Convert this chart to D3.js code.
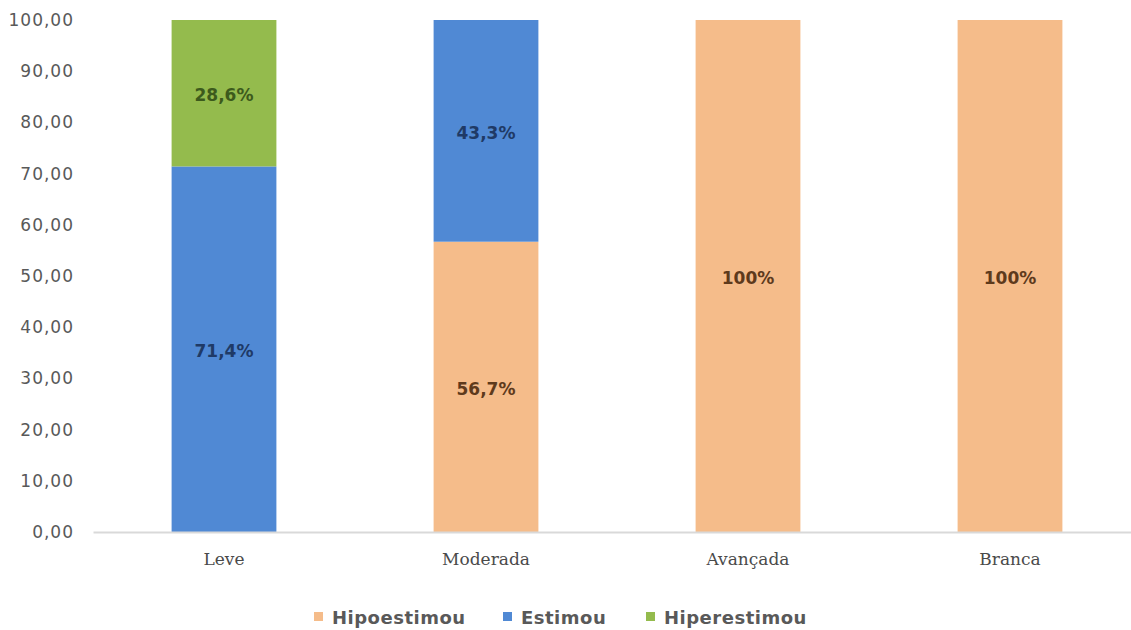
<!DOCTYPE html>
<html>
<head>
<meta charset="utf-8">
<script src="https://cdn.jsdelivr.net/npm/d3@7"></script>
<style>
  html, body { margin: 0; padding: 0; background: #fff; }
  svg { display: block; }
</style>
</head>
<body>
<svg id="chart" width="1131" height="630"></svg>
<script>
// Stage of the condition on the x axis
const categories = ["Leve", "Moderada", "Avançada", "Branca"];

// Share of each estimation outcome (%) per category
const seriesNames = ["Hipoestimou", "Estimou", "Hiperestimou"];
const hipoestimou = [0, 56.7, 100, 100];
const estimou = [71.4, 43.3, 0, 0];
const hiperestimou = [28.6, 0, 0, 0];

// Printed data labels per series
const hipoLabels = ["", "56,7%", "100%", "100%"];
const estimouLabels = ["71,4%", "43,3%", "", ""];
const hiperLabels = ["28,6%", "", "", ""];

const yTicks = [0, 10, 20, 30, 40, 50, 60, 70, 80, 90, 100];

const colors = { Hipoestimou: "#F5BC8A", Estimou: "#5089D4", Hiperestimou: "#94BB4D" };
const labelColors = { Hipoestimou: "#5E3A1C", Estimou: "#1F3A66", Hiperestimou: "#3C5A1C" };

const rows = categories.map((c, i) => ({
  category: c,
  Hipoestimou: hipoestimou[i],
  Estimou: estimou[i],
  Hiperestimou: hiperestimou[i]
}));
const labelsBySeries = { Hipoestimou: hipoLabels, Estimou: estimouLabels, Hiperestimou: hiperLabels };

const svg = d3.select("#chart");
const margin = { left: 93, right: -10, top: 20, bottom: 98 };
const width = 1131 - margin.left - margin.right;
const height = 630 - margin.top - margin.bottom;

const g = svg.append("g").attr("transform", `translate(${margin.left},${margin.top})`);

const x = d3.scaleBand().domain(categories).range([0, width]).paddingInner(0.6).paddingOuter(0.3);
const y = d3.scaleLinear().domain([0, 100]).range([height, 0]);

const stacked = d3.stack().keys(seriesNames)(rows);

// Y axis: labels only, no line or ticks
const yAxis = g.append("g")
  .call(d3.axisLeft(y).tickValues(yTicks).tickSize(0).tickPadding(19)
    .tickFormat(d => d3.format(".2f")(d).replace(".", ",")));
yAxis.select(".domain").remove();
yAxis.selectAll("text")
  .attr("fill", "#595959")
  .style("font-family", "'DejaVu Sans', sans-serif")
  .style("font-size", "17px")
  .style("letter-spacing", "1px");

// Stacked bars
const layers = g.selectAll(".layer").data(stacked).join("g")
  .attr("class", "layer")
  .attr("fill", d => colors[d.key]);

layers.selectAll("rect").data(d => d.map(v => ({ key: d.key, v })))
  .join("rect")
  .attr("x", d => x(d.v.data.category))
  .attr("width", x.bandwidth())
  .attr("y", d => y(d.v[1]))
  .attr("height", d => y(d.v[0]) - y(d.v[1]));

// X axis baseline and category labels
const xAxis = g.append("g").attr("transform", `translate(0,${height})`)
  .call(d3.axisBottom(x).tickSize(0).tickPadding(21));
xAxis.select(".domain").attr("stroke", "#D9D9D9").attr("stroke-width", 2);
xAxis.selectAll("text")
  .attr("fill", "#4A4A4A")
  .style("font-family", "'DejaVu Serif', serif")
  .style("font-size", "17px");

// Data labels centred in each segment
stacked.forEach(layer => {
  layer.forEach((v, i) => {
    const txt = labelsBySeries[layer.key][i];
    if (!txt) return;
    g.append("text")
      .attr("x", x(v.data.category) + x.bandwidth() / 2)
      .attr("y", (y(v[0]) + y(v[1])) / 2 + 2)
      .attr("text-anchor", "middle")
      .attr("dominant-baseline", "central")
      .attr("fill", labelColors[layer.key])
      .style("font-family", "'DejaVu Sans', sans-serif")
      .style("font-weight", "bold")
      .style("font-size", "17px")
      .text(txt);
  });
});

// Legend
const legendX = [314, 503, 646];
const legend = svg.append("g").attr("transform", "translate(0,617)");
seriesNames.forEach((name, i) => {
  const item = legend.append("g").attr("transform", `translate(${legendX[i]},0)`);
  item.append("rect").attr("x", 0).attr("y", -5).attr("width", 9).attr("height", 9).attr("fill", colors[name]);
  item.append("text")
    .attr("x", 18).attr("y", 0)
    .attr("dominant-baseline", "central")
    .attr("fill", "#595959")
    .style("font-family", "'DejaVu Sans', sans-serif")
    .style("font-weight", "bold")
    .style("font-size", "18px")
    .style("letter-spacing", "0.5px")
    .text(name);
});
</script>
</body>
</html>
